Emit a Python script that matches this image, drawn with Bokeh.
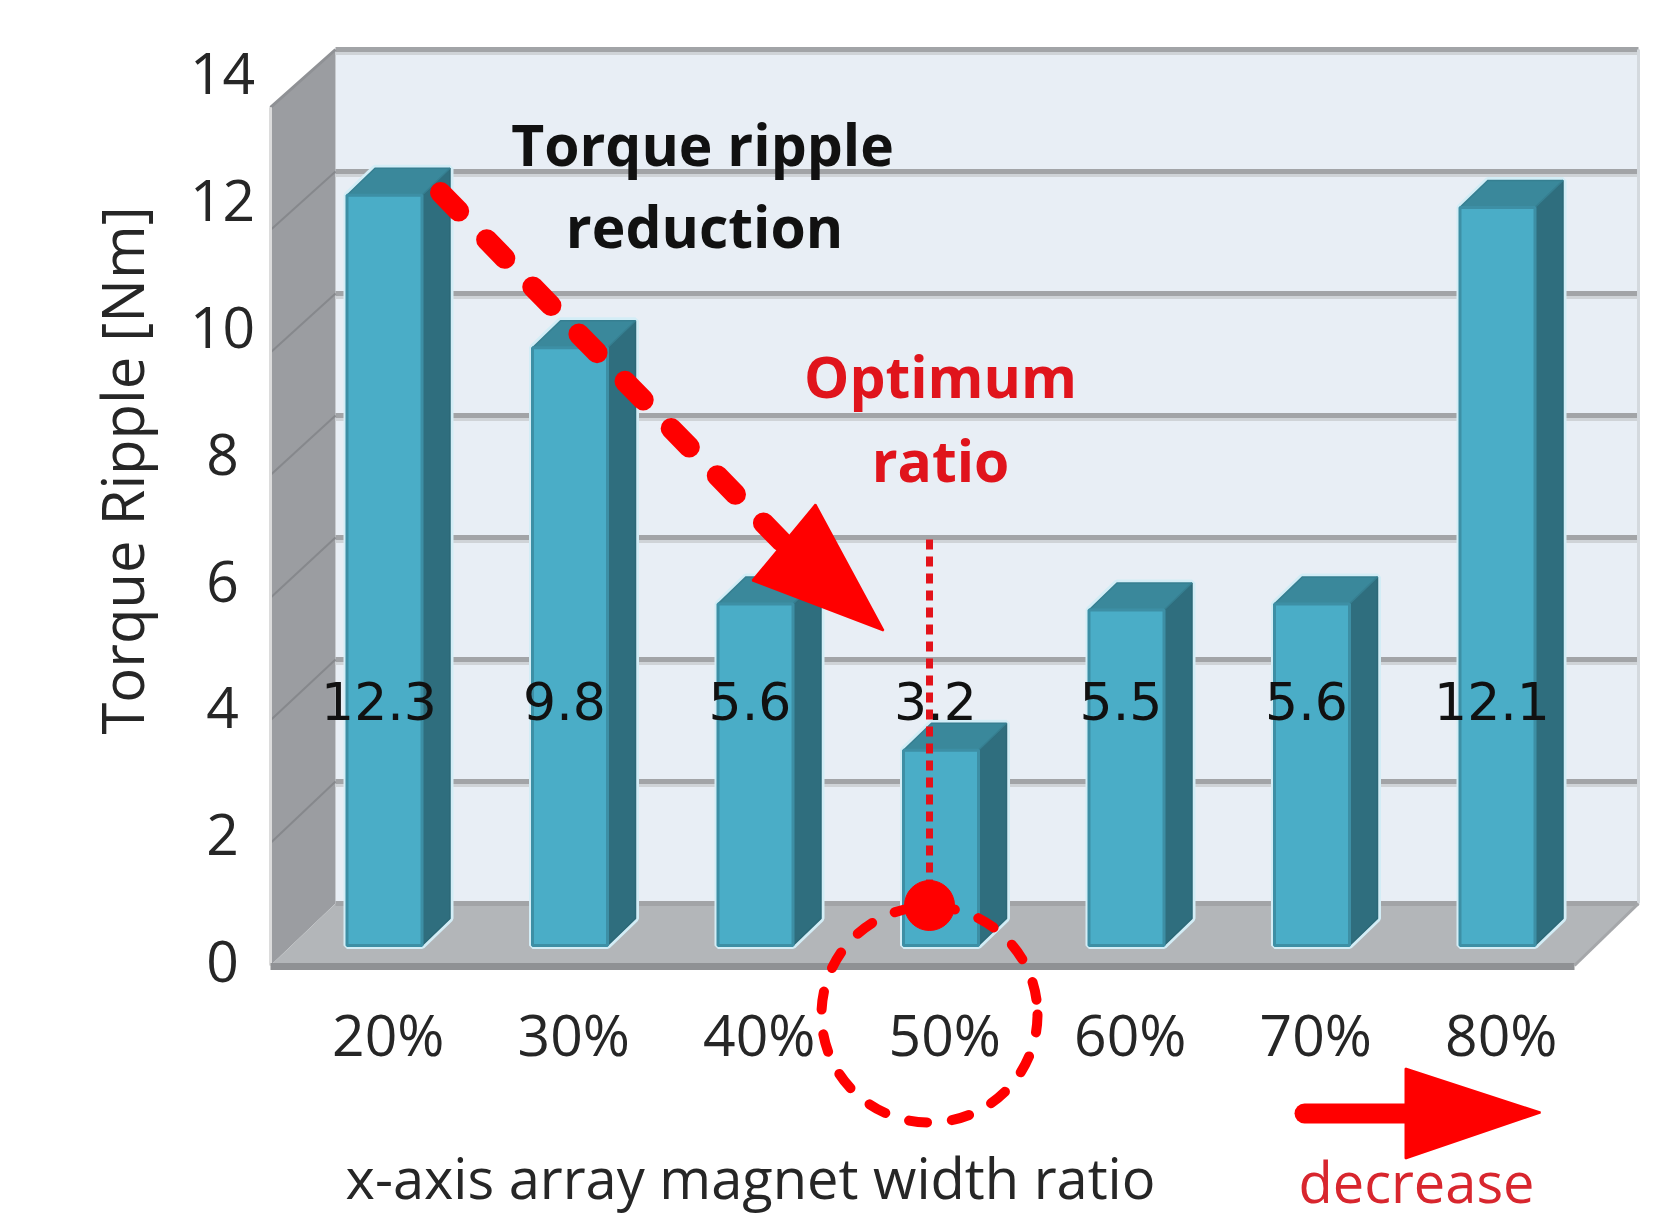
import numpy as np
from bokeh.plotting import figure
from bokeh.models import Range1d
from bokeh.core.properties import value
from bokeh.embed import file_html
from bokeh.resources import INLINE

# ---------------- data ----------------
categories = ["20%", "30%", "40%", "50%", "60%", "70%", "80%"]
ripple = [12.3, 9.8, 5.6, 3.2, 5.5, 5.6, 12.1]
y_ticks = [0, 2, 4, 6, 8, 10, 12, 14]
y_tick_labels = ["0", "2", "4", "6", "8", "10", "12", "14"]
y_title = "Torque Ripple [Nm]"
x_title = "x-axis array magnet width ratio"
note_reduction = ["Torque ripple", "reduction"]
note_optimum = ["Optimum", "ratio"]
note_decrease = "decrease"

# ---------------- layout (pixel space -> data space) ----------------
W, H = 1656, 1222
X0, DX = 384.0, 185.5   # px of first bar centre, px per category
Y0, DY = 945.0, 61.0    # px of bar baseline, px per Nm


def X(px):
    return (px - X0) / DX


def Y(py):
    return (Y0 - py) / DY


def XS(pxs):
    return [X(v) for v in pxs]


def YS(pys):
    return [Y(v) for v in pys]


p = figure(width=W, height=H, x_range=Range1d(X(0), X(W)), y_range=Range1d(Y(H), Y(0)),
           output_backend="svg", toolbar_location=None, x_axis_location=None,
           y_axis_location=None, min_border=0, outline_line_color=None,
           background_fill_color="white", border_fill_color="white")
p.grid.visible = False

FONT = value("Open Sans")
top_v = max(y_ticks)

# walls ---------------------------------------------------------------
BACK_L, BACK_R, BACK_Y0 = 335, 1638, 903
FRONT_L, FRONT_Y0, FRONT_S = 270, 965, 61.3
FLOOR_R = 1574
back_top = BACK_Y0 - DY * top_v
front_top = FRONT_Y0 - FRONT_S * top_v

p.patch(XS([BACK_L, BACK_R, BACK_R, BACK_L]), YS([back_top, back_top, BACK_Y0, BACK_Y0]),
        fill_color="#e8eef5", line_color=None)
p.patch(XS([FRONT_L, BACK_L, BACK_L, FRONT_L]), YS([front_top, back_top, BACK_Y0, FRONT_Y0]),
        fill_color="#9b9da1", line_color=None)
p.patch(XS([FRONT_L, FLOOR_R, BACK_R, BACK_L]), YS([FRONT_Y0, FRONT_Y0, BACK_Y0, BACK_Y0]),
        fill_color="#b3b6b9", line_color=None)

# gridlines on back wall and side wall
for t in y_ticks:
    yb = BACK_Y0 - DY * t
    yf = FRONT_Y0 - FRONT_S * t
    if t > 0:
        p.line(XS([BACK_L, BACK_R]), YS([yb + 4, yb + 4]), line_color="#cfd3d7", line_width=3)
    p.line(XS([BACK_L, BACK_R]), YS([yb, yb]), line_color="#a2a4a7", line_width=5)
    if 0 < t < top_v:
        p.line(XS([BACK_L, FRONT_L]), YS([yb, yf]), line_color="#86888c", line_width=2)

p.line(XS([FRONT_L, BACK_L]), YS([front_top, back_top]), line_color="#8f9195", line_width=3)
p.line(XS([BACK_R, BACK_R]), YS([back_top, BACK_Y0]), line_color="#d4d9de", line_width=3)
p.line(XS([FRONT_L, FRONT_L]), YS([front_top, FRONT_Y0]), line_color="#dcdcdc", line_width=3)
p.line(XS([FRONT_L, FLOOR_R]), YS([FRONT_Y0 + 1, FRONT_Y0 + 1]), line_color="#8f9194", line_width=7)
p.line(XS([FLOOR_R, BACK_R]), YS([FRONT_Y0, BACK_Y0]), line_color="#a5a7aa", line_width=3)

# bars ----------------------------------------------------------------
BW = 75 / DX
DDX, DDY = 28 / DX, 27 / DY
xs_i = list(range(len(ripple)))
halo_x, halo_y, side_x, side_y, cap_x, cap_y = [], [], [], [], [], []
for i, v in zip(xs_i, ripple):
    l, r = i - BW / 2, i + BW / 2
    halo_x.append([l, r, r + DDX, r + DDX, l + DDX, l])
    halo_y.append([0, 0, DDY, v + DDY, v + DDY, v])
    side_x.append([r, r + DDX, r + DDX, r])
    side_y.append([0, DDY, v + DDY, v])
    cap_x.append([l, l + DDX, r + DDX, r])
    cap_y.append([v, v + DDY, v + DDY, v])

p.patches(halo_x, halo_y, fill_color="#d3edf6", line_color="#d3edf6", line_width=7)
p.patches(side_x, side_y, fill_color="#2f6e7e", line_color="#2c6877", line_width=1.5)
p.patches(cap_x, cap_y, fill_color="#3a889b", line_color="#367f91", line_width=1.5)
p.quad(left=[i - BW / 2 for i in xs_i], right=[i + BW / 2 for i in xs_i],
       bottom=0, top=ripple, fill_color="#4aadc7", line_color="#3d8fa5", line_width=3)

# data labels
p.text(x=[i - 0.03 for i in xs_i], y=[Y(700)] * len(ripple), text=[f"{v}" for v in ripple],
       text_font=value("DejaVu Sans"), text_font_size="52px", text_color="#111111",
       text_align="center", text_baseline="middle")

# axis texts ----------------------------------------------------------
p.text(x=[X(222)] * len(y_ticks), y=[Y(961 - 63.4 * t) for t in y_ticks], text=y_tick_labels,
       text_font=FONT, text_font_size="57px", text_color="#262626",
       text_align="center", text_baseline="middle")
p.text(x=[i + 0.02 for i in xs_i], y=[Y(1033)] * len(categories), text=categories,
       text_font=FONT, text_font_size="57px", text_color="#262626",
       text_align="center", text_baseline="middle")
p.text(x=[X(121)], y=[Y(470)], text=[y_title], angle=np.pi / 2,
       text_font=FONT, text_font_size="58px", text_color="#262626",
       text_align="center", text_baseline="middle")
p.text(x=[X(750)], y=[Y(1176)], text=[x_title],
       text_font=FONT, text_font_size="56px", text_color="#262626",
       text_align="center", text_baseline="middle")

# annotations ---------------------------------------------------------
RED = "#ff0000"
p.text(x=[X(702), X(704)], y=[Y(143), Y(225)], text=note_reduction,
       text_font=FONT, text_font_size="57px", text_font_style="bold", text_color="#111111",
       text_align="center", text_baseline="middle")
p.text(x=[X(940), X(940)], y=[Y(375), Y(459)], text=note_optimum,
       text_font=FONT, text_font_size="57px", text_font_style="bold", text_color="#e0141c",
       text_align="center", text_baseline="middle")
p.text(x=[X(1416)], y=[Y(1180)], text=[note_decrease],
       text_font=FONT, text_font_size="56px", text_color="#d8262e",
       text_align="center", text_baseline="middle")

# dashed reduction arrow
p.line(XS([440, 786]), YS([192, 546]), line_color=RED, line_width=21,
       line_dash="26 40", line_cap="round")
p.patch(XS([815, 752, 883]), YS([504, 580, 630]), fill_color=RED, line_color=RED, line_width=2)

# dotted optimum line, dot and dashed circle
p.line(XS([929, 929]), YS([539, 900]), line_color="#e3121a", line_width=7, line_dash="10 7")
p.scatter(x=[X(929)], y=[Y(905)], size=50, marker="circle", fill_color=RED, line_color=RED)
p.scatter(x=[X(929)], y=[Y(1014)], size=216, marker="circle", fill_color=None,
          line_color=RED, line_width=10, line_dash="18 25", line_cap="round")

# decrease arrow
p.line(XS([1304, 1408]), YS([1113, 1113]), line_color=RED, line_width=20, line_cap="round")
p.patch(XS([1405, 1405, 1540]), YS([1068, 1158, 1112]), fill_color=RED, line_color=RED, line_width=2)

open("out.html", "w").write(file_html(p, INLINE))
